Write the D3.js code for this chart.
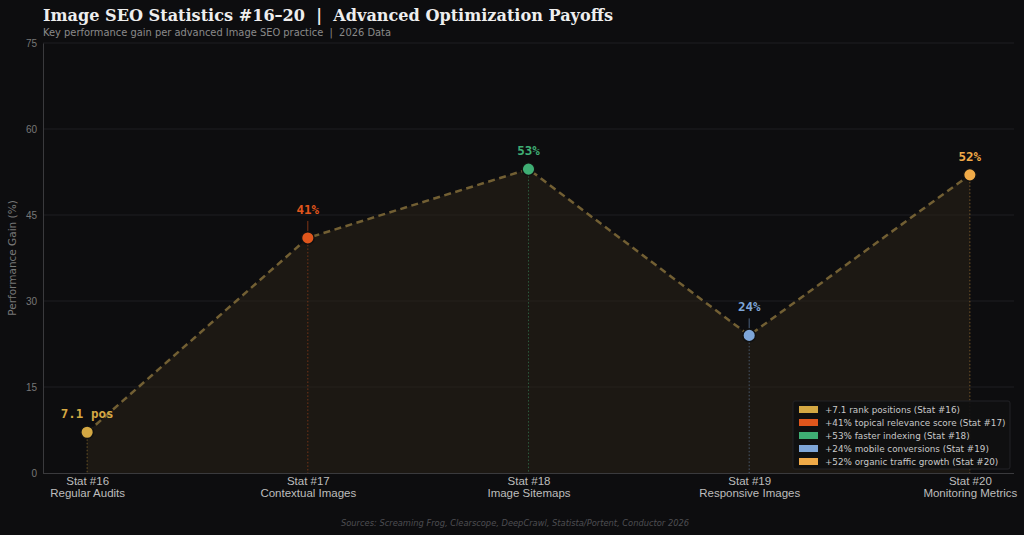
<!DOCTYPE html>
<html>
<head>
<meta charset="UTF-8">
<style>
body{
	margin: 0;
	background: #0d0d0f;
}
svg{
	display: block;
	font-family: "DejaVu Sans";
}
.grid line{
	stroke: #1f1f22;
	stroke-width: 1;
}
.axis path, .axis line{
	stroke: #3a3a3d;
}
.y.axis text{
	fill: #777;
	font-size: 10px;
}
.x.axis text{
	fill: #bdbdbd;
	font-size: 11.5px;
}
.value-label{
	font-family: "DejaVu Sans Mono";
	font-weight: bold;
	font-size: 12.5px;
	text-anchor: middle;
}
.legend text{
	fill: #c8c8c8;
	font-size: 8.8px;
}
</style>
<script src="https://cdn.jsdelivr.net/npm/d3@7"></script>
</head>
<body>
<script>
var stats = ["Stat #16", "Stat #17", "Stat #18", "Stat #19", "Stat #20"];
var practices = ["Regular Audits", "Contextual Images", "Image Sitemaps", "Responsive Images", "Monitoring Metrics"];
var gains = [7.1, 41, 53, 24, 52];
var valueLabels = ["7.1 pos", "41%", "53%", "24%", "52%"];
var colors = ["#d4a843", "#e0561c", "#3fae74", "#7ea6d8", "#f0aa48"];
var legendLabels = ["+7.1 rank positions (Stat #16)", "+41% topical relevance score (Stat #17)",
	"+53% faster indexing (Stat #18)", "+24% mobile conversions (Stat #19)", "+52% organic traffic growth (Stat #20)"];
var yTicks = [0, 15, 30, 45, 60, 75];

var W = 1024, H = 535;
var margin = {top: 43, right: 10, bottom: 62, left: 43};
var width = W - margin.left - margin.right,
	height = H - margin.top - margin.bottom;

var data = gains.map(function(v, i){
	// odd stats get their label lifted higher, with a visible stem
	var off = (i % 2 === 1) ? 24 : 14;
	return {i: i, value: v, stat: stats[i], practice: practices[i], label: valueLabels[i], color: colors[i], off: off};
});

var x = d3.scaleLinear().domain([-0.2, 4.2]).range([0, width]);
var y = d3.scaleLinear().domain([0, 75]).range([height, 0]);

var svg = d3.select("body").append("svg")
	.attr("width", W)
	.attr("height", H);

svg.append("text")
	.attr("x", 43).attr("y", 21)
	.attr("font-family", "DejaVu Serif")
	.attr("font-weight", "bold")
	.attr("font-size", "16.1px")
	.attr("fill", "#eeeeee")
	.style("white-space", "pre")
	.text("Image SEO Statistics #16\u201320  |  Advanced Optimization Payoffs");

svg.append("text")
	.attr("x", 43).attr("y", 36)
	.attr("font-size", "9.9px")
	.attr("fill", "#8a8a8a")
	.style("white-space", "pre")
	.text("Key performance gain per advanced Image SEO practice  |  2026 Data");

var g = svg.append("g")
	.attr("transform", "translate(" + margin.left + "," + margin.top + ")");

// horizontal grid
g.append("g")
	.attr("class", "grid")
	.selectAll("line")
	.data(yTicks.slice(1))
	.enter().append("line")
	.attr("x1", 0).attr("x2", width)
	.attr("y1", function(d){ return y(d); })
	.attr("y2", function(d){ return y(d); });

// area under line
var area = d3.area()
	.x(function(d){ return x(d.i); })
	.y0(y(0))
	.y1(function(d){ return y(d.value); });

g.append("path")
	.datum(data)
	.attr("d", area)
	.attr("fill", "#2a2218")
	.attr("fill-opacity", 0.55);

// vertical dotted droplines
g.selectAll(".drop")
	.data(data)
	.enter().append("line")
	.attr("class", "drop")
	.attr("x1", function(d){ return x(d.i); })
	.attr("x2", function(d){ return x(d.i); })
	.attr("y1", function(d){ return y(d.value); })
	.attr("y2", y(0))
	.attr("stroke", function(d){ return d.color; })
	.attr("stroke-opacity", 0.45)
	.attr("stroke-width", 1)
	.attr("stroke-dasharray", "1.5,2");

// dashed line
var line = d3.line()
	.x(function(d){ return x(d.i); })
	.y(function(d){ return y(d.value); });

g.append("path")
	.datum(data)
	.attr("d", line)
	.attr("fill", "none")
	.attr("stroke", "#725f33")
	.attr("stroke-width", 2.5)
	.attr("stroke-dasharray", "7,4.5");

// stems to labels
g.selectAll(".stem")
	.data(data)
	.enter().append("line")
	.attr("class", "stem")
	.attr("x1", function(d){ return x(d.i); })
	.attr("x2", function(d){ return x(d.i); })
	.attr("y1", function(d){ return y(d.value) - 7; })
	.attr("y2", function(d){ return y(d.value) - d.off + 7; })
	.attr("stroke", function(d){ return d.color; })
	.attr("stroke-opacity", 0.55)
	.attr("stroke-width", 1);

// points
g.selectAll(".pt")
	.data(data)
	.enter().append("circle")
	.attr("class", "pt")
	.attr("cx", function(d){ return x(d.i); })
	.attr("cy", function(d){ return y(d.value); })
	.attr("r", 6.3)
	.attr("fill", function(d){ return d.color; })
	.attr("stroke", "#111")
	.attr("stroke-width", 1.5);

// value labels
g.selectAll(".value-label")
	.data(data)
	.enter().append("text")
	.attr("class", "value-label")
	.attr("x", function(d){ return x(d.i); })
	.attr("y", function(d){ return y(d.value) - d.off; })
	.attr("fill", function(d){ return d.color; })
	.text(function(d){ return d.label; });

// axes
var yAxis = d3.axisLeft(y).tickValues(yTicks).tickSize(0).tickPadding(6);
g.append("g")
	.attr("class", "y axis")
	.call(yAxis);

var xAxis = d3.axisBottom(x).tickValues(d3.range(stats.length)).tickSize(0).tickFormat("");
var xg = g.append("g")
	.attr("class", "x axis")
	.attr("transform", "translate(0," + height + ")")
	.call(xAxis);
xg.select(".domain").attr("d", "M0,0.5H" + width);
xg.selectAll(".tick").each(function(d){
	var t = d3.select(this).append("text")
		.attr("text-anchor", "middle")
		.attr("fill", "#bdbdbd");
	t.append("tspan").attr("x", 0).attr("y", 12).text(stats[d]);
	t.append("tspan").attr("x", 0).attr("y", 24).text(practices[d]);
});

g.append("text")
	.attr("transform", "translate(-27," + (height / 2) + ") rotate(-90)")
	.attr("text-anchor", "middle")
	.attr("font-size", "10.5px")
	.attr("fill", "#777")
	.text("Performance Gain (%)");

// legend
var legend = g.append("g")
	.attr("class", "legend")
	.attr("transform", "translate(" + (793 - margin.left) + "," + (401 - margin.top) + ")");

legend.append("rect")
	.attr("width", 217).attr("height", 68)
	.attr("fill", "#0f0f11")
	.attr("fill-opacity", 0.9)
	.attr("stroke", "#222226")
	.attr("rx", 2);

var items = legend.selectAll(".item")
	.data(legendLabels)
	.enter().append("g")
	.attr("class", "item")
	.attr("transform", function(d, i){ return "translate(6," + (5 + i * 13) + ")"; });

items.append("rect")
	.attr("width", 19).attr("height", 7)
	.attr("fill", function(d, i){ return colors[i]; });

items.append("text")
	.attr("x", 26).attr("y", 7)
	.text(function(d){ return d; });

svg.append("text")
	.attr("x", 515).attr("y", 526)
	.attr("text-anchor", "middle")
	.attr("font-style", "italic")
	.attr("font-size", "8.3px")
	.attr("fill", "#4e4e52")
	.text("Sources: Screaming Frog, Clearscope, DeepCrawl, Statista/Portent, Conductor 2026");
</script>
</body>
</html>
